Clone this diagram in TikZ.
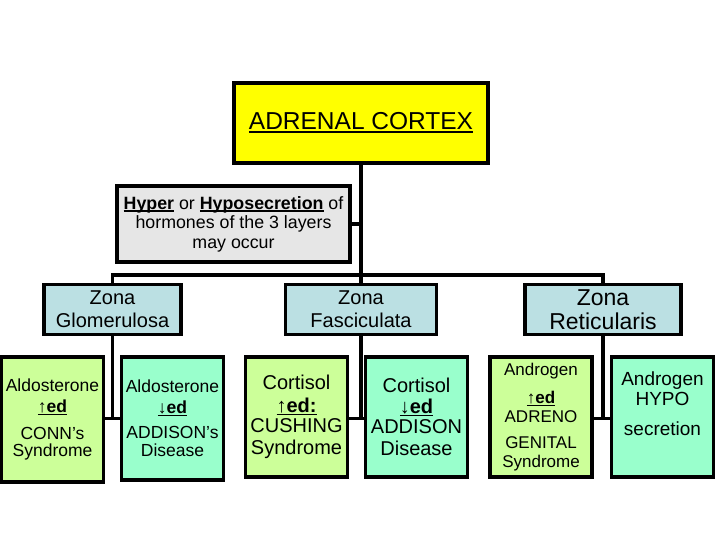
\documentclass[tikz,border=0pt]{standalone}
\usepackage{fontspec}
\setmainfont{Liberation Sans}
\usetikzlibrary{calc}
\definecolor{cortexyel}{HTML}{FFFF00}
\definecolor{hypergray}{HTML}{E6E6E6}
\definecolor{zonablue}{HTML}{BBE0E3}
\definecolor{hyperlime}{HTML}{CCFF99}
\definecolor{hypoaqua}{HTML}{99FFCC}
\newsavebox{\ulbox}
\newcommand{\fsz}[2]{\fontsize{#1}{#2}\selectfont}
\newcommand{\ulin}[1]{\sbox\ulbox{#1}%
  \rlap{\rule[-0.14em]{\wd\ulbox}{0.075em}}\usebox\ulbox}
\newcommand{\uped}{\ulin{↑\textbf{ed}}}
\newcommand{\downed}{\ulin{↓\textbf{ed}}}

\begin{document}
\begin{tikzpicture}[x=1pt,y=-1pt,line width=3.2pt,
    box/.style={draw,rectangle,inner sep=0pt,align=center},
    zone/.style={box,fill=zonablue,minimum height=50pt,font=\fsz{20}{23}},
    effect/.style={box,minimum width=102pt,minimum height=120pt}]
  \useasboundingbox (0,0) rectangle (720,540);
  \node[box,fill=cortexyel,minimum width=254pt,minimum height=80pt,
    font=\fsz{24.5}{26}] (cortex) at (361,123) {\ulin{ADRENAL CORTEX}};
  \node[box,fill=hypergray,minimum width=233pt,minimum height=76pt,
    font=\fsz{17.8}{19.5}] (hyper) at (233.5,224)
    {\ulin{\textbf{Hyper}} or \ulin{\textbf{Hyposecretion}} of\\
     hormones of the 3 layers\\may occur};
  % the three layers
  \node[zone,minimum width=137pt] (glom) at (112.5,309.5) {Zona\\Glomerulosa};
  \node[zone,minimum width=151pt] (fasc) at (361,309.5) {Zona\\Fasciculata};
  \node[zone,minimum width=156pt,font=\fsz{23}{24}] (reti) at (603,309.5)
    {Zona\\Reticularis};
  % what goes wrong in each layer
  \node[effect,fill=hyperlime,minimum height=125pt,font=\fsz{17.5}{19}]
    (conn) at (52.5,419.5)
    {Aldosterone\\[2pt]\uped\\[8pt]CONN’s\\[-2pt]Syndrome};
  \node[effect,fill=hypoaqua,minimum height=123pt,font=\fsz{17.5}{19}]
    (addis) at (172.5,418.5)
    {Aldosterone\\[2pt]\downed\\[6pt]ADDISON’s\\[-1pt]Disease};
  \node[effect,fill=hyperlime,font=\fsz{20}{22}] (cush) at (296.5,417)
    {Cortisol\\[1pt]\ulin{↑\textbf{ed:}}\\[-2pt]CUSHING\\Syndrome};
  \node[effect,fill=hypoaqua,font=\fsz{20}{22}] (addisd) at (416.5,417)
    {Cortisol\\[-1pt]\downed\\[-2pt]ADDISON\\Disease};
  \node[effect,fill=hyperlime,font=\fsz{17}{19}] (adreno) at (541,417)
    {Androgen\\[9pt]\uped\\ADRENO\\[7pt]GENITAL\\Syndrome};
  \node[effect,fill=hypoaqua,font=\fsz{19}{20},text depth=26pt] (hypo)
    at (662.5,417) {Androgen\\HYPO\\[10pt]secretion};
  % connectors
  \coordinate (bus) at (361,275);
  \draw (cortex.south) -- (fasc.north);
  \draw (hyper.east) -- (hyper.east -| cortex.south);
  \draw (glom.north) |- (bus) -| (reti.north);
  \draw (glom.south) -- ++(0,82) coordinate (jglom);
  \draw (conn.east |- jglom) -- (addis.west |- jglom);
  \draw (fasc.south) -- ++(0,82) coordinate (jfasc);
  \draw (cush.east |- jfasc) -- (addisd.west |- jfasc);
  \draw (reti.south) -- ++(0,82) coordinate (jreti);
  \draw (adreno.east |- jreti) -- (hypo.west |- jreti);
\end{tikzpicture}
\end{document}
